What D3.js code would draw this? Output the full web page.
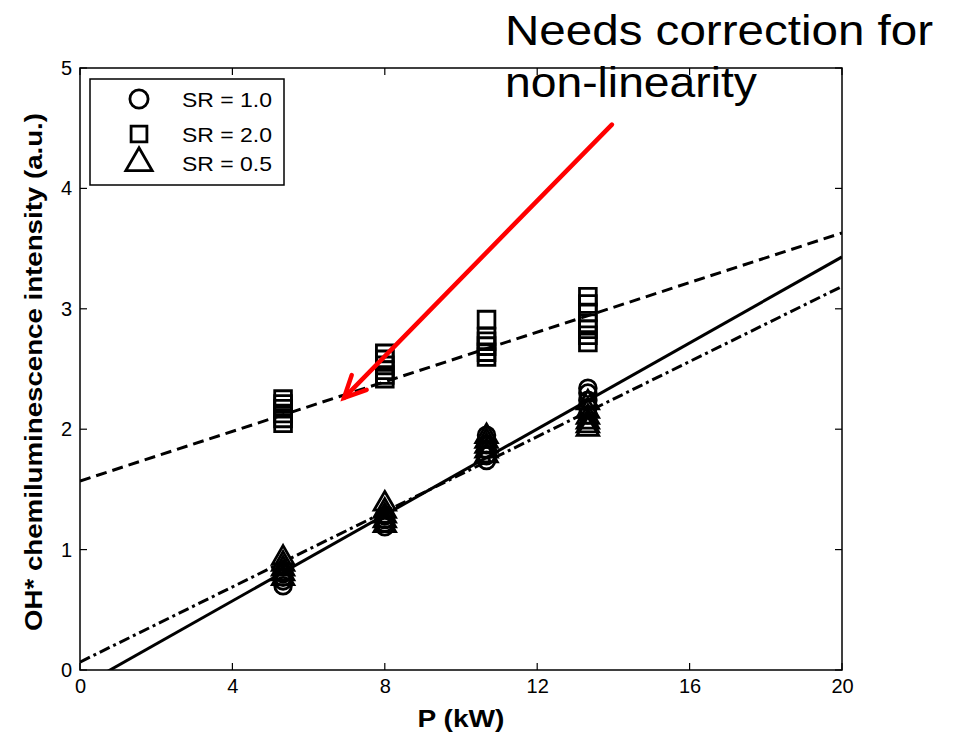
<!DOCTYPE html>
<html>
<head>
<meta charset="utf-8">
<script src="https://cdn.jsdelivr.net/npm/d3@7"></script>
<style>
	body { margin: 0; background: white; }
	svg { font-family: Arial, "Liberation Sans", sans-serif; }
</style>
</head>
<body>
<svg id="chart" width="957" height="735"></svg>
<script>

// power levels (kW)
var powers = [5.33, 8, 10.67, 13.33];

// SR = 1.0 (circles), one list per power level
var sr10Values = [
	[0.70, 0.74, 0.77, 0.80],
	[1.19, 1.22, 1.25, 1.28],
	[1.74, 1.78, 1.83, 1.87, 1.95],
	[2.12, 2.18, 2.24, 2.30, 2.34]
];

// SR = 2.0 (squares)
var sr20Values = [
	[2.05, 2.09, 2.13, 2.17, 2.21, 2.25],
	[2.42, 2.45, 2.49, 2.53, 2.58, 2.63],
	[2.60, 2.64, 2.69, 2.73, 2.77, 2.91],
	[2.72, 2.78, 2.83, 2.88, 2.97, 3.04, 3.10]
];

// SR = 0.5 (triangles)
var sr05Values = [
	[0.76, 0.80, 0.84, 0.88, 0.93],
	[1.20, 1.24, 1.28, 1.32, 1.38],
	[1.78, 1.82, 1.86, 1.90, 1.94],
	[2.00, 2.03, 2.06, 2.10, 2.15, 2.22]
];

// linear fits [intercept, slope]
var sr10Fit = [-0.141, 0.1786];
var sr20Fit = [1.57, 0.103];
var sr05Fit = [0.066, 0.156];

var legendLabels = ["SR = 1.0", "SR = 2.0", "SR = 0.5"];
var xTicks = [0, 4, 8, 12, 16, 20];
var yTicks = [0, 1, 2, 3, 4, 5];

// annotation arrow, data coordinates [from, to]
var arrowPoints = [[13.96, 4.53], [6.93, 2.26]];

var svg = d3.select("#chart");

var margin = { top: 68, bottom: 65, left: 80, right: 115 };
var width = 957, height = 735;

var xScale = d3.scaleLinear()
	.domain([0, 20])
	.range([margin.left, width - margin.right]);

var yScale = d3.scaleLinear()
	.domain([0, 5])
	.range([height - margin.bottom, margin.top]);

svg.append("clipPath")
	.attr("id", "plotClip")
	.append("rect")
	.attr("x", xScale(0))
	.attr("y", yScale(5))
	.attr("width", xScale(20) - xScale(0))
	.attr("height", yScale(0) - yScale(5));

function flatten(values) {
	var out = [];
	values.forEach(function(list, i) {
		list.forEach(function(v) { out.push([powers[i], v]); });
	});
	return out;
}

function drawMarkers(values, shape, size) {
	var symbol = d3.symbol().type(shape).size(size);
	svg.append("g")
		.selectAll("path")
		.data(flatten(values))
		.enter()
		.append("path")
		.attr("d", symbol)
		.attr("transform", d => "translate(" + xScale(d[0]) + "," + yScale(d[1]) + ")")
		.attr("fill", "none")
		.attr("stroke", "black")
		.attr("stroke-width", 2.8);
}

drawMarkers(sr10Values, d3.symbolCircle, 220);
drawMarkers(sr20Values, d3.symbolSquare, 280);
drawMarkers(sr05Values, d3.symbolTriangle, 200);

function drawFit(fit, dash) {
	var line = d3.line()
		.x(d => xScale(d))
		.y(d => yScale(fit[0] + fit[1] * d));
	svg.append("path")
		.datum([0, 20])
		.attr("d", line)
		.attr("clip-path", "url(#plotClip)")
		.attr("fill", "none")
		.attr("stroke", "black")
		.attr("stroke-width", 3)
		.attr("stroke-dasharray", dash);
}

drawFit(sr10Fit, null);
drawFit(sr20Fit, "11,6");
drawFit(sr05Fit, "11,4,3,4");

// axes frame
svg.append("rect")
	.attr("x", xScale(0))
	.attr("y", yScale(5))
	.attr("width", xScale(20) - xScale(0))
	.attr("height", yScale(0) - yScale(5))
	.attr("fill", "none")
	.attr("stroke", "black")
	.attr("stroke-width", 1.5);

var tickLen = 7;

var xAxisBottom = d3.axisBottom(xScale).tickValues(xTicks).tickFormat(d3.format("d")).tickSize(0).tickPadding(9);
svg.append("g")
	.attr("transform", "translate(0," + yScale(0) + ")")
	.call(xAxisBottom)
	.call(g => g.select(".domain").remove())
	.selectAll("text")
	.attr("font-size", 20)
	.attr("font-family", "Arial, 'Liberation Sans', sans-serif")
	.attr("fill", "black");

var yAxisLeft = d3.axisLeft(yScale).tickValues(yTicks).tickFormat(d3.format("d")).tickSize(0).tickPadding(8);
svg.append("g")
	.attr("transform", "translate(" + xScale(0) + ",0)")
	.call(yAxisLeft)
	.call(g => g.select(".domain").remove())
	.selectAll("text")
	.attr("font-size", 20)
	.attr("font-family", "Arial, 'Liberation Sans', sans-serif")
	.attr("fill", "black");

// inward ticks on all four sides
var ticks = svg.append("g").attr("stroke", "black").attr("stroke-width", 1.2);
xTicks.forEach(function(t) {
	ticks.append("line").attr("x1", xScale(t)).attr("x2", xScale(t))
		.attr("y1", yScale(0)).attr("y2", yScale(0) - tickLen);
	ticks.append("line").attr("x1", xScale(t)).attr("x2", xScale(t))
		.attr("y1", yScale(5)).attr("y2", yScale(5) + tickLen);
});
yTicks.forEach(function(t) {
	ticks.append("line").attr("x1", xScale(0)).attr("x2", xScale(0) + tickLen)
		.attr("y1", yScale(t)).attr("y2", yScale(t));
	ticks.append("line").attr("x1", xScale(20)).attr("x2", xScale(20) - tickLen)
		.attr("y1", yScale(t)).attr("y2", yScale(t));
});

// axis titles
svg.append("text")
	.attr("x", 461)
	.attr("y", 727)
	.attr("text-anchor", "middle")
	.attr("font-size", 24)
	.attr("font-weight", "bold")
	.attr("textLength", 87)
	.attr("lengthAdjust", "spacingAndGlyphs")
	.text("P (kW)");

svg.append("text")
	.attr("transform", "translate(42," + 372 + ") rotate(-90)")
	.attr("text-anchor", "middle")
	.attr("font-size", 24)
	.attr("font-weight", "bold")
	.attr("textLength", 518)
	.attr("lengthAdjust", "spacingAndGlyphs")
	.text("OH* chemiluminescence intensity (a.u.)");

// legend
var legend = svg.append("g").attr("transform", "translate(90,79)");
legend.append("rect")
	.attr("width", 194)
	.attr("height", 106)
	.attr("fill", "white")
	.attr("stroke", "black")
	.attr("stroke-width", 1.5);

var legendShapes = [[d3.symbolCircle, 260], [d3.symbolSquare, 250], [d3.symbolTriangle, 300]];
var legendRows = [20, 55, 84];

legend.selectAll(".legend-item")
	.data(legendLabels)
	.enter()
	.append("g")
	.attr("class", "legend-item")
	.attr("transform", (d, i) => "translate(0," + legendRows[i] + ")")
	.each(function(d, i) {
		var g = d3.select(this);
		g.append("path")
			.attr("d", d3.symbol().type(legendShapes[i][0]).size(legendShapes[i][1]))
			.attr("transform", "translate(49,0)")
			.attr("fill", "none")
			.attr("stroke", "black")
			.attr("stroke-width", 2.8);
		g.append("text")
			.attr("x", 92)
			.attr("y", 0)
			.attr("dominant-baseline", "central")
			.attr("font-size", 21)
			.attr("textLength", 90)
			.attr("lengthAdjust", "spacingAndGlyphs")
			.text(d);
	});

// annotation
svg.append("text")
	.attr("x", 505)
	.attr("y", 45)
	.attr("font-size", 42)
	.attr("textLength", 428)
	.attr("lengthAdjust", "spacingAndGlyphs")
	.text("Needs correction for");

svg.append("text")
	.attr("x", 505)
	.attr("y", 97)
	.attr("font-size", 42)
	.attr("textLength", 252)
	.attr("lengthAdjust", "spacingAndGlyphs")
	.text("non-linearity");

var from = [xScale(arrowPoints[0][0]), yScale(arrowPoints[0][1])];
var to = [xScale(arrowPoints[1][0]), yScale(arrowPoints[1][1])];
var angle = Math.atan2(from[1] - to[1], from[0] - to[0]);
var headLen = 24, headSpread = 0.45;

var arrow = svg.append("g")
	.attr("stroke", "#ff0000")
	.attr("stroke-width", 4.5)
	.attr("stroke-linecap", "round")
	.attr("fill", "none");

arrow.append("line")
	.attr("x1", from[0]).attr("y1", from[1])
	.attr("x2", to[0]).attr("y2", to[1]);

arrow.append("path")
	.attr("d", d3.line()([
		[to[0] + headLen * Math.cos(angle - headSpread), to[1] + headLen * Math.sin(angle - headSpread)],
		to,
		[to[0] + headLen * Math.cos(angle + headSpread), to[1] + headLen * Math.sin(angle + headSpread)]
	]));

</script>
</body>
</html>
